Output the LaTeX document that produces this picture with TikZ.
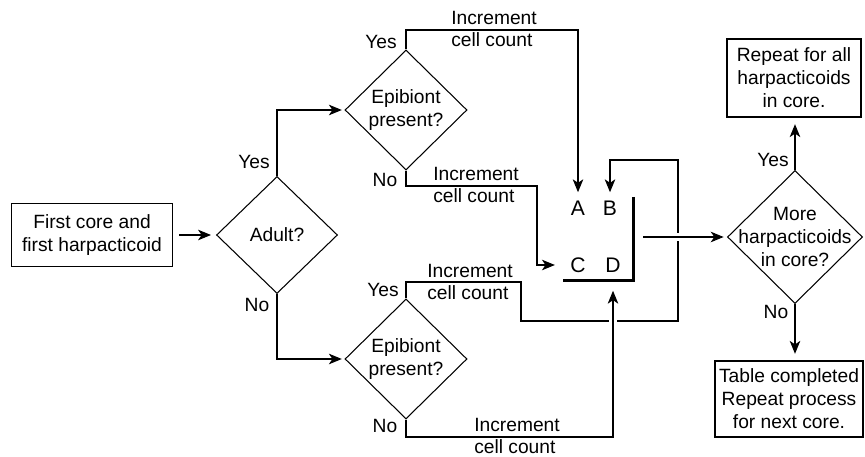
\documentclass[tikz,border=0pt]{standalone}
\usepackage{fontspec}
\setmainfont{Liberation Sans}
\usetikzlibrary{shapes.geometric,arrows.meta}

\begin{document}
\begin{tikzpicture}[x=0.03cm,y=-0.03cm,line width=0.9pt,
          font=\fontsize{16.4}{19.6}\selectfont,
          box/.style={draw,rectangle,align=center,inner sep=0pt},
          decision/.style={draw,diamond,inner sep=0pt},
          arr/.style={-{Stealth[length=11pt,width=9pt,inset=3pt]}},
          lbl/.style={inner sep=0pt,align=center},
          inc/.style={inner sep=0pt,align=left},
          letter/.style={inner sep=0pt,font=\fontsize{18}{20}\selectfont}]
          \useasboundingbox (0,0) rectangle (865,457);

          \node[box,minimum width=4.83cm,minimum height=1.89cm] (start) at (92,235) {First core and\\first harpacticoid};
          \node[decision,minimum width=3.63cm,minimum height=3.51cm,label={[lbl]center:Adult?}] (adult) at (277,235) {};
          \node[decision,minimum width=3.66cm,minimum height=3.6cm,label={[lbl]center:Epibiont\\present?}] (epiU) at (406,110) {};
          \node[decision,minimum width=3.66cm,minimum height=3.6cm,label={[lbl]center:Epibiont\\present?}] (epiL) at (406,359) {};
          \node[decision,minimum width=4.05cm,minimum height=3.99cm,label={[lbl]center:More\\harpacticoids\\in core?}] (more) at (795,237) {};
          \node[box,minimum width=4.02cm,minimum height=2.34cm] (rep) at (794,78) {Repeat for all\\harpacticoids\\in core.};
          \node[box,minimum width=4.44cm,minimum height=2.28cm] (tab) at (789,399) {Table completed\\Repeat process\\for next core.};

          \node[letter] (A) at (578,208) {A};
          \node[letter] (B) at (610,208) {B};
          \node[letter] (C) at (578,265) {C};
          \node[letter] (D) at (613,265) {D};
          \draw[line width=0.09cm] (633,197) -- (633,281) -- (563,281);

          \draw[arr,shorten <=0.18cm,shorten >=0.15cm] (start) -- (adult);
          \draw[arr,shorten >=0.08cm] (adult.north) |- (epiU.west);
          \draw[arr,shorten >=0.08cm] (adult.south) |- (epiL.west);

          \draw[arr,shorten >=0.24cm] (epiU.north) |- (A |- 0,30) -- (A.north);
          \draw[arr,shorten >=0.45cm] (epiU.south) |- (537,186) |- (C.west);
          \draw[arr,shorten >=0.24cm] (epiL.north) |- (521,282) |- (678,321) |- (B |- 0,160) -- (B.north);
          \draw[white,line width=6pt] (613,315) -- (613,327);
          \draw[arr,shorten >=0.54cm] (epiL.south) |- (D |- 0,437) -- (D.south);

          \coordinate (out) at (643,237);
          \draw[white,line width=6pt] (672,237) -- (684,237);
          \draw[arr,shorten >=0.1cm] (out) -- (more.west);
          \draw[arr,shorten >=0.2cm] (more.north) -- (more.north |- rep.south);
          \draw[arr,shorten >=0.2cm] (more.south) -- (more.south |- tab.north);

          \node[lbl] (yA) at (254,162) {Yes};
          \node[lbl] (nA) at (257,305) {No};
          \node[lbl] (yU) at (381,42) {Yes};
          \node[lbl] (nU) at (385,180) {No};
          \node[lbl] (yL) at (383,290) {Yes};
          \node[lbl] (nL) at (385,426) {No};
          \node[lbl] (yM) at (773,160) {Yes};
          \node[lbl] (nM) at (776,312) {No};

          \node[inc] (iUy) at (494,29) {Increment\\cell count};
          \node[inc] (iUn) at (476,185) {Increment\\cell count};
          \node[inc] (iLy) at (470,282) {Increment\\cell count};
          \node[inc] (iLn) at (517,436) {Increment\\cell count};

          \end{tikzpicture}
\end{document}
